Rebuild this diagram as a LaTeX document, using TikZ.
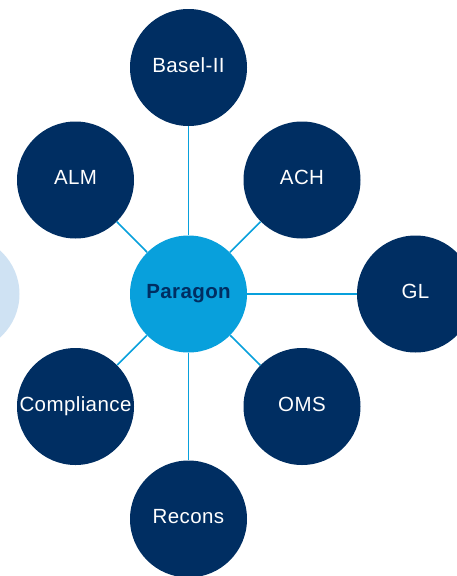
\documentclass[tikz,border=0pt]{standalone}
\usepackage{fontspec}
\setmainfont{Liberation Sans}[LetterSpace=2]
\definecolor{navy}{RGB}{0,46,98}
\definecolor{hub}{RGB}{8,160,220}
\definecolor{pale}{RGB}{207,226,243}
\begin{document}
\begin{tikzpicture}[x=1pt,y=-1pt,
  disc/.style={circle,minimum size=117pt,inner sep=0pt,text height=14.7pt,text depth=5pt},
  spoke/.style={disc,fill=navy,text=white,font=\fontsize{20.5}{24}\selectfont},
  hubnode/.style={disc,fill=hub,text=navy,font=\fontsize{20.5}{24}\selectfont\bfseries},
  link/.style={draw=hub,line width=1.6pt}]
\useasboundingbox (0,0) rectangle (457,576);
\clip (0,0) rectangle (457,576);
\node[disc,fill=pale] (side) at (-39,294) {};
\node[hubnode] (par) at (188.5,294) {Paragon};
\node[spoke] (basel) at (188.5,67.5) {Basel-II};
\node[spoke] (recons) at (188.5,519) {Recons};
\node[spoke] (alm) at (75.5,180) {ALM};
\node[spoke] (ach) at (302,180) {ACH};
\node[spoke] (comp) at (75.5,406.5) {Compliance};
\node[spoke] (oms) at (302,406.5) {OMS};
\node[spoke] (gl) at (415.5,294) {GL};
\foreach \n in {basel,recons,alm,ach,comp,oms,gl}
  \draw[link] (par) -- (\n);
\end{tikzpicture}
\end{document}
